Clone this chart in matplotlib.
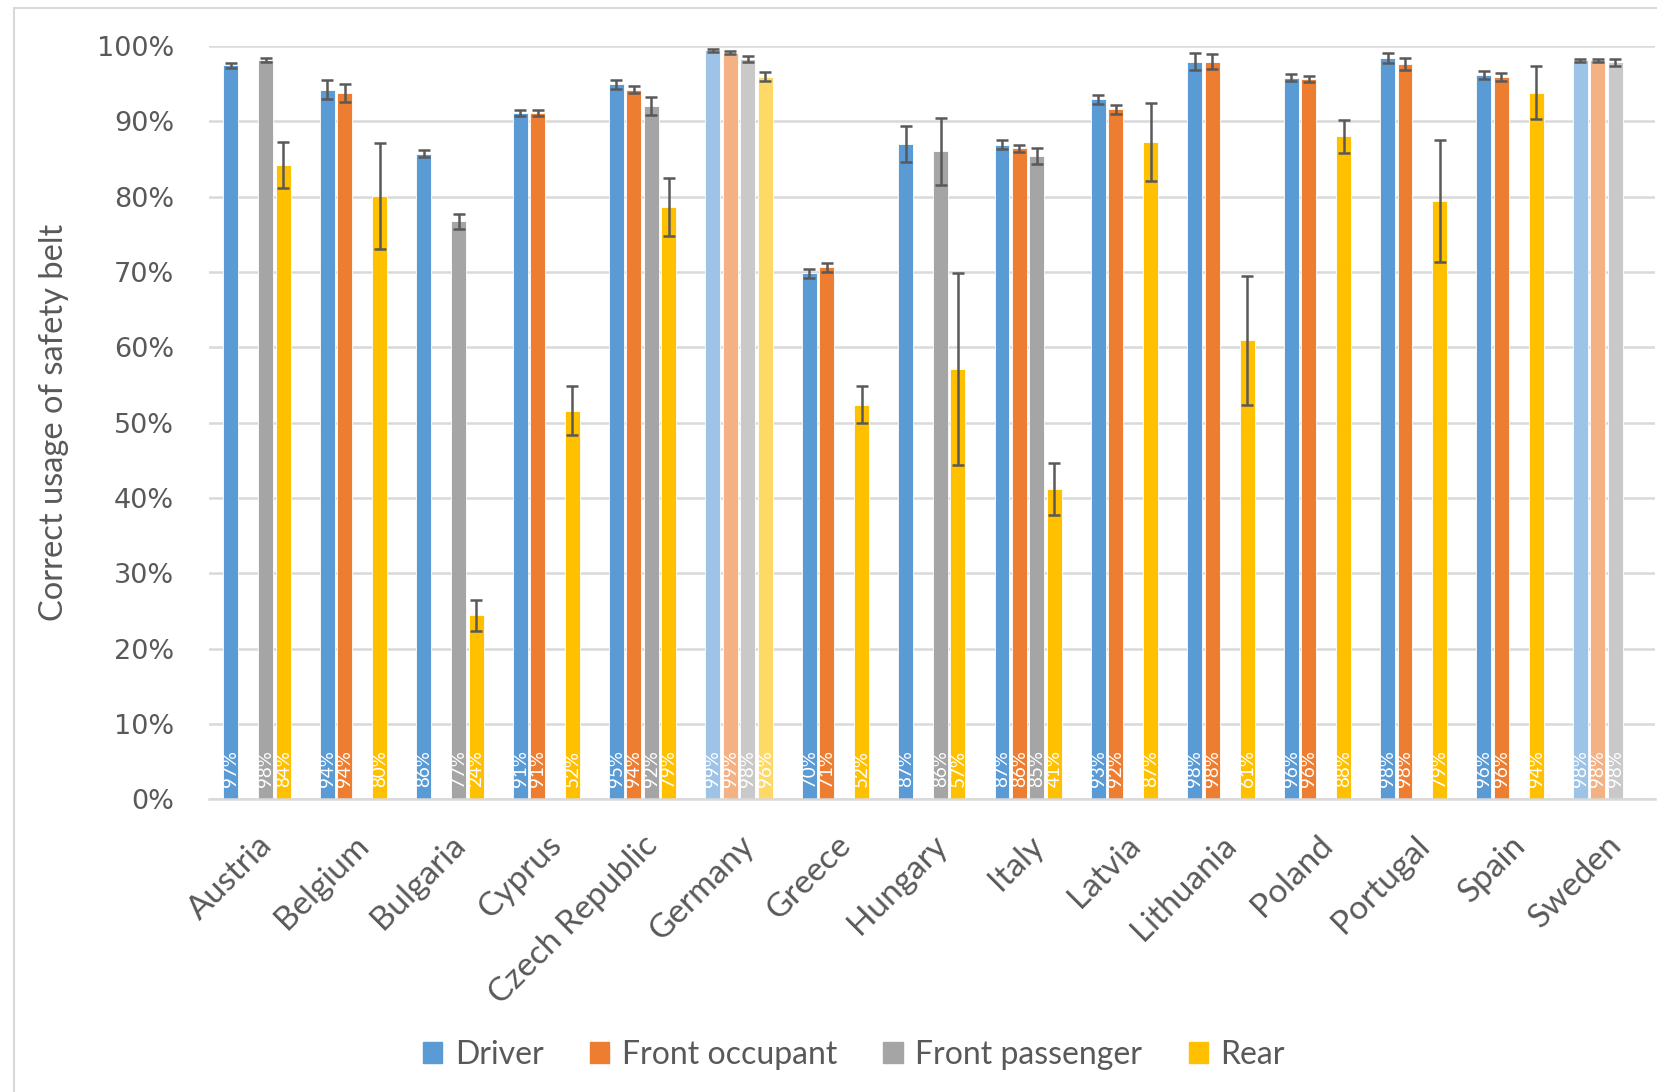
import numpy as np
import matplotlib as mpl
import matplotlib.pyplot as plt
from matplotlib.patches import Patch, Rectangle

nan = np.nan

countries = ["Austria", "Belgium", "Bulgaria", "Cyprus", "Czech Republic", "Germany",
             "Greece", "Hungary", "Italy", "Latvia", "Lithuania", "Poland",
             "Portugal", "Spain", "Sweden"]
series = ["Driver", "Front occupant", "Front passenger", "Rear"]

driver = [97.4, 94.2, 85.7, 91.1, 94.9, 99.4, 69.8, 87.0, 86.9, 92.9, 97.9, 95.8, 98.4, 96.1, 98.1]
front_occupant = [nan, 93.8, nan, 91.1, 94.2, 99.1, 70.6, nan, 86.4, 91.6, 97.9, 95.6, 97.6, 95.9, 98.1]
front_passenger = [98.1, nan, 76.7, nan, 92.0, 98.3, nan, 86.0, 85.4, nan, nan, nan, nan, nan, 97.8]
rear = [84.2, 80.1, 24.4, 51.6, 78.6, 95.9, 52.4, 57.1, 41.2, 87.2, 60.9, 88.0, 79.4, 93.8, nan]

driver_err = [0.3, 1.3, 0.5, 0.4, 0.6, 0.2, 0.6, 2.4, 0.6, 0.6, 1.1, 0.4, 0.7, 0.5, 0.2]
front_occupant_err = [nan, 1.2, nan, 0.4, 0.5, 0.2, 0.6, nan, 0.5, 0.6, 1.0, 0.4, 0.8, 0.55, 0.2]
front_passenger_err = [0.3, nan, 1.0, nan, 1.2, 0.4, nan, 4.4, 1.1, nan, nan, nan, nan, nan, 0.45]
rear_err = [3.0, 7.0, 2.0, 3.3, 3.9, 0.6, 2.4, 12.7, 3.5, 5.2, 8.6, 2.2, 8.1, 3.5, nan]

# countries drawn with pale colours
faded = ["Germany", "Sweden"]

colors = ["#5B9BD5", "#ED7D31", "#A5A5A5", "#FFC000"]
faded_colors = ["#9DC3E6", "#F4B183", "#C9C9C9", "#FFD966"]


def main():
    mpl.rcParams['font.family'] = ['Lato', 'DejaVu Sans']
    values = [driver, front_occupant, front_passenger, rear]
    errors = [driver_err, front_occupant_err, front_passenger_err, rear_err]

    fig = plt.figure(figsize=(16.58, 10.92), dpi=100)
    ax = fig.add_axes([0.126, 0.268, 0.872, 0.690])

    # outer chart frame (cut off at right and bottom)
    fig.patches.append(Rectangle((0.0085, -0.1), 1.2, 1.093, transform=fig.transFigure,
                                 fill=False, edgecolor="#D9D9D9", linewidth=1.5))

    x = np.arange(len(countries))
    slot = 0.181
    width = 0.155
    for i, (vals, errs) in enumerate(zip(values, errors)):
        pos = x + (i - 1.5) * slot
        cols = [faded_colors[i] if c in faded else colors[i] for c in countries]
        ax.bar(pos, vals, width, color=cols, edgecolor="white", linewidth=0.6, zorder=2)
        ax.errorbar(pos, vals, yerr=errs, fmt="none", ecolor="#595959", elinewidth=1.8,
                    capsize=4, capthick=1.8, zorder=3)
        for p, v in zip(pos, vals):
            if np.isnan(v):
                continue
            ax.text(p, 1.6, f"{v:.0f}%", rotation=90, ha="center", va="bottom",
                    color="white", fontsize=13.5, zorder=4)

    ax.set_xlim(-0.5, len(countries) - 0.5)
    ax.set_ylim(0, 100)
    ax.set_yticks(np.arange(0, 101, 10))
    ax.set_yticklabels([f"{t}%" for t in range(0, 101, 10)], family="DejaVu Sans",
                       fontsize=19.5, color="#595959")
    ax.tick_params(axis="y", length=0, pad=25)
    ax.set_xticks(x)
    ax.set_xticklabels(countries, rotation=45, ha="right", rotation_mode="anchor",
                       fontsize=24, color="#595959")
    ax.tick_params(axis="x", length=0, pad=22)
    ax.grid(axis="y", color="#D9D9D9", linewidth=1.8, zorder=0)
    ax.set_axisbelow(True)
    for s in ["top", "right", "left"]:
        ax.spines[s].set_visible(False)
    ax.spines["bottom"].set_color("#D9D9D9")
    ax.spines["bottom"].set_linewidth(1.8)

    ax.set_ylabel("Correct usage of safety belt", fontsize=23.5, color="#595959")
    ax.yaxis.set_label_coords(0.0416, 0.613, transform=fig.transFigure)

    handles = [Patch(color=c, label=s) for c, s in zip(colors, series)]
    fig.legend(handles=handles, loc="center", bbox_to_anchor=(0.515, 0.034), ncol=4,
               frameon=False, fontsize=23, handlelength=0.6, handleheight=0.6,
               handletextpad=0.4, columnspacing=1.45, labelcolor="#595959")

    fig.savefig("out.png", dpi=100)


if __name__ == "__main__":
    main()
